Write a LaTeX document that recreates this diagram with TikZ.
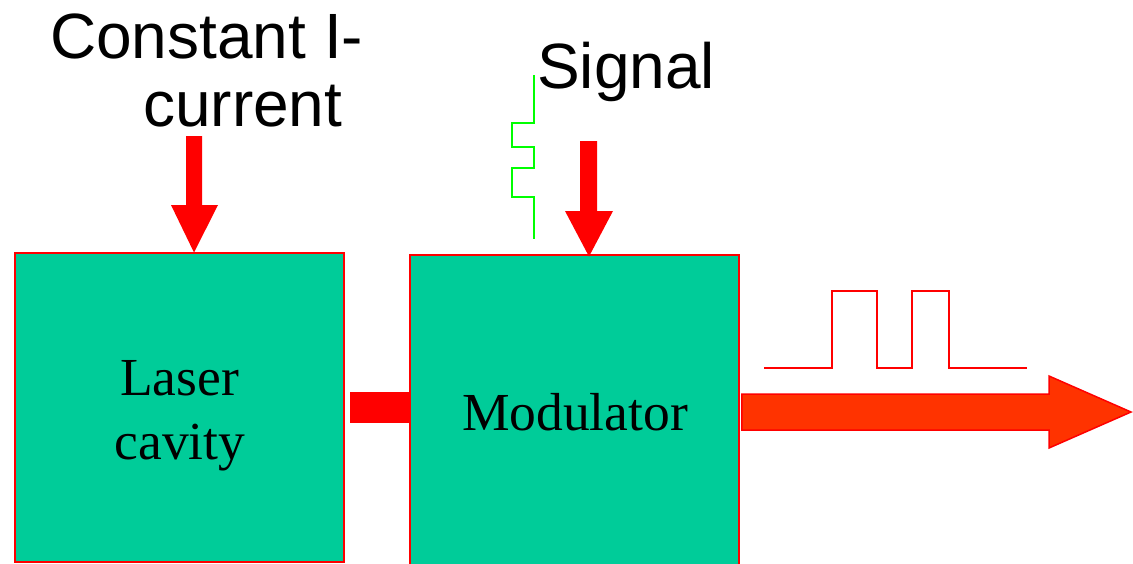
\documentclass[tikz,border=0pt]{standalone}
\usepackage{fontspec}
\setmainfont{Liberation Serif}
\newfontfamily\arialf{Liberation Sans}
\definecolor{boxgreen}{HTML}{00CC99}
\definecolor{outred}{HTML}{FF3300}
\definecolor{siggreen}{HTML}{00FF00}
\begin{document}
\begin{tikzpicture}[x=1pt,y=-1pt,
  box/.style={draw=red, fill=boxgreen, line width=1.5pt, inner sep=0pt, rectangle},
  bigsans/.style={font=\arialf\fontsize{64}{70}\selectfont, inner sep=0pt, anchor=base west},
  serifl/.style={font=\fontsize{53.5}{60}\selectfont, inner sep=0pt, anchor=base},
  redarrow/.style={fill=red, draw=none},
  pulse/.style={draw=red, line width=2pt},
  sigwave/.style={draw=siggreen, line width=1.6pt}]
\useasboundingbox (0,0) rectangle (1133,563);
% boxes
\node[box, minimum width=329pt, minimum height=309pt] (laser) at (179.5,407.5) {};
\node[box, minimum width=329pt, minimum height=316pt] (mod) at (574.5,413) {};
% texts
\node[bigsans] (t1) at (50,58) {Constant I-};
\node[bigsans] (t2) at (143,126) {current};
\node[bigsans] (t3) at (537,88) {Signal};
\node[serifl] (l1) at (179.5,395) {Laser};
\node[serifl] (l2) at (180,459) {cavity};
\node[serifl] (m1) at (575,430) {Modulator};
% current arrow
\path[redarrow] (186,136) -- (202,136) -- (202,205) -- (218,205) -- (194,252.5) -- (171,205) -- (186,205) -- cycle;
% signal arrow
\path[redarrow] (580,141) -- (597,141) -- (597,211) -- (613,211) -- (589,256.5) -- (565,211) -- (580,211) -- cycle;
% connector bar between boxes
\path[redarrow] (laser.east |- 0,392) ++(5,0) rectangle (mod.west |- 0,423);
% green signal
\draw[sigwave] (534,75) -- (534,123) -- (512,123) -- (512,147) -- (534,147) -- (534,168) -- (512,168) -- (512,197) -- (534,197) -- (534,239);
% output pulses
\draw[pulse] (764,368) -- (832,368) -- (832,291) -- (877,291) -- (877,368) -- (912,368) -- (912,291) -- (949,291) -- (949,368) -- (1027,368);
% output arrow
\draw[draw=red, fill=outred, line width=1.5pt, line join=miter] (mod.east |- 0,394) ++(2,0) -- (1049,394) -- (1049,376) -- (1131,412) -- (1049,448) -- (1049,430) -- ([xshift=2pt]mod.east |- 0,430) -- cycle;
\end{tikzpicture}
\end{document}
